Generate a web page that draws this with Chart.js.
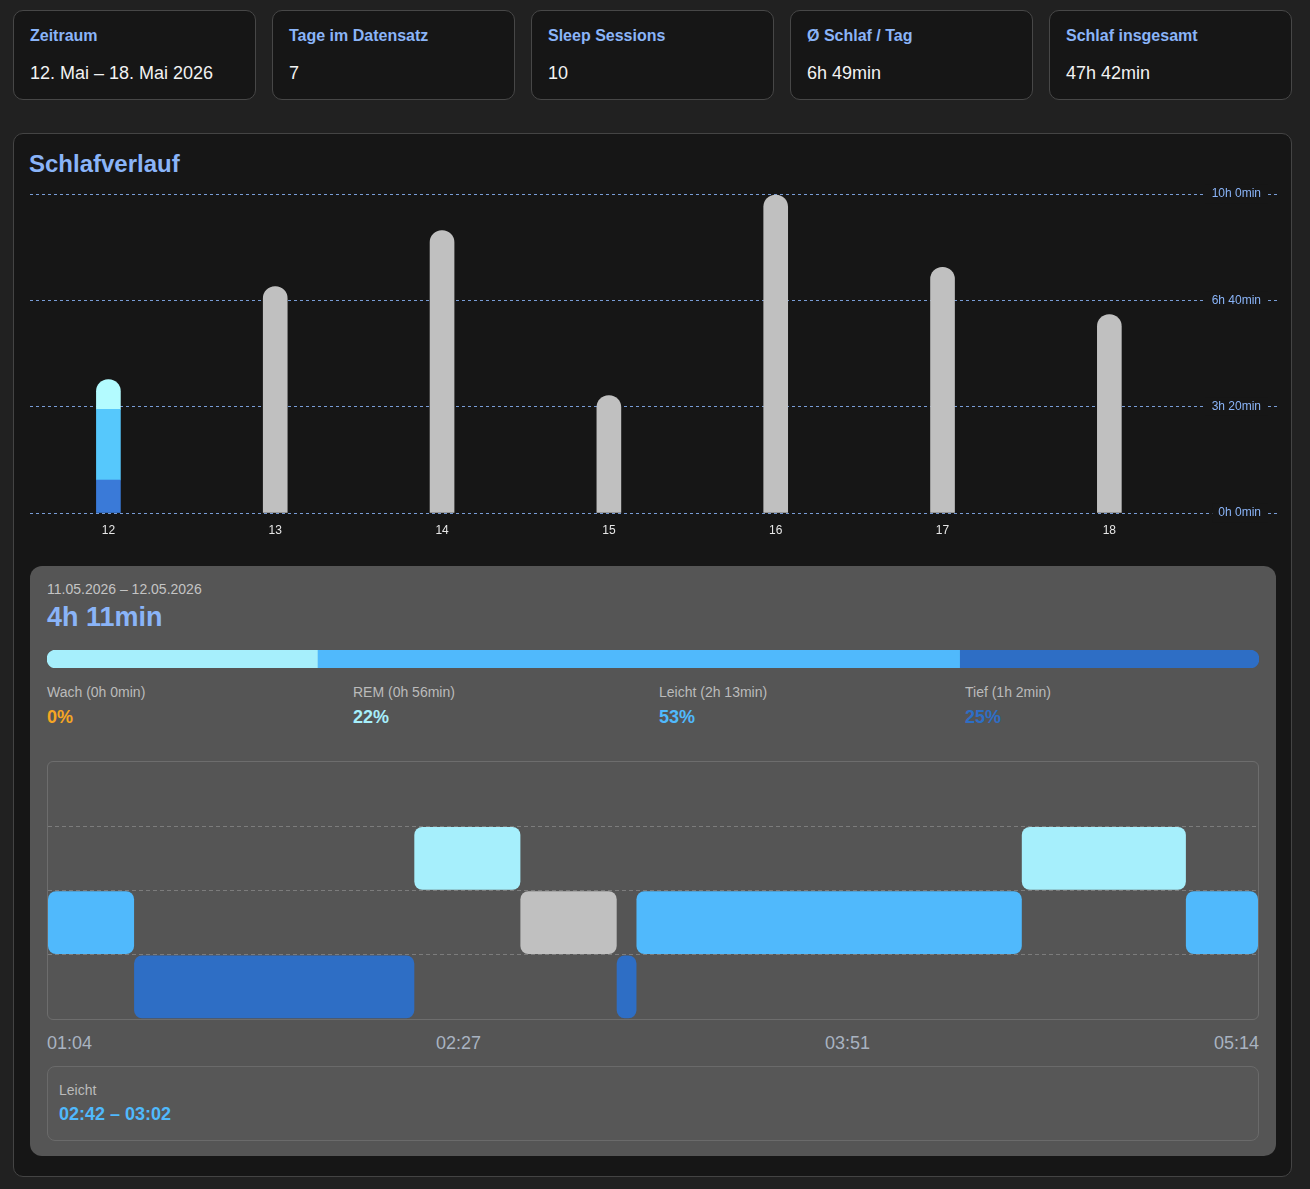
<!DOCTYPE html>
<html lang="de">
<head>
<meta charset="utf-8">
<title>Schlafverlauf</title>
<script src="https://cdn.jsdelivr.net/npm/chart.js@4.4.1/dist/chart.umd.min.js"></script>
<style>
html,body{margin:0;padding:0;background:#212121;}
body{width:1310px;height:1189px;position:relative;overflow:hidden;font-family:"Liberation Sans",Arial,sans-serif;}
.t{position:absolute;line-height:1;white-space:nowrap;margin:0;}
.card{position:absolute;top:10px;width:243px;height:90px;box-sizing:border-box;background:#161616;border:1px solid #474747;border-radius:10px;}
.card .ct{left:16px;top:16.5px;font-size:16px;font-weight:bold;color:#8ab4f8;}
.card .cv{left:16px;top:53px;font-size:18px;color:#f2f2f2;}
#panel{position:absolute;left:13px;top:133px;width:1279px;height:1044px;box-sizing:border-box;background:#161616;border:1px solid #444;border-radius:10px;}
#detail{position:absolute;left:30px;top:566px;width:1246px;height:590px;background:#555555;border-radius:12px;}
#hypBox{position:absolute;left:47px;top:761px;width:1212px;height:259px;box-sizing:border-box;border:1px solid #6d6d6d;border-radius:6px;overflow:hidden;}
#timeline{position:absolute;left:47px;top:1033.8px;width:1212px;display:flex;justify-content:space-between;font-size:18px;line-height:1;color:#a9b3c1;}
#selBox{position:absolute;left:47px;top:1066px;width:1212px;height:75px;box-sizing:border-box;border:1px solid #6a6a6a;border-radius:8px;background:#575757;}
</style>
</head>
<body>
<div id="cards"></div>
<div id="panel"></div>
<div class="t" style="left:29px;top:151.7px;font-size:24px;font-weight:bold;color:#8ab4f8;">Schlafverlauf</div>
<div style="position:absolute;left:30px;top:180px;width:1247px;height:370px;"><canvas id="barChart"></canvas></div>
<div id="detail"></div>
<div class="t" id="detailDate" style="left:47px;top:582.4px;font-size:14px;color:#c4c4c4;"></div>
<div class="t" id="detailTotal" style="left:47px;top:603.8px;font-size:27px;font-weight:bold;color:#8ab4f8;"></div>
<div style="position:absolute;left:47px;top:650px;width:1212px;height:18px;"><canvas id="progChart"></canvas></div>
<div id="legendRow"></div>
<div id="hypBox"><div style="position:absolute;left:0;top:0;width:1210px;height:257px;"><canvas id="hypChart"></canvas></div></div>
<div id="timeline"></div>
<div id="selBox"></div>
<div class="t" id="selStage" style="left:59px;top:1083.4px;font-size:14px;color:#bbbbbb;"></div>
<div class="t" id="selRange" style="left:59px;top:1105.1px;font-size:18px;font-weight:bold;color:#50b9fc;"></div>
<script>
// ---------- data ----------
const days = ['12', '13', '14', '15', '16', '17', '18'];
const totalMinutes = [251, 426, 531, 221, 598, 462, 373];
const selectedDayIndex = 0;
const yTickValues = [0, 200, 400, 600];

const stageNames = ['Wach', 'REM', 'Leicht', 'Tief'];
const stageMinutes = [0, 56, 133, 62];

const segStages = ['Leicht', 'Tief', 'REM', 'Leicht', 'Tief', 'Leicht', 'REM', 'Leicht'];
const segStart  = ['01:04:00', '01:21:47', '02:19:41', '02:41:36', '03:01:30', '03:05:35', '04:25:12', '04:59:06'];
const segEnd    = ['01:21:47', '02:19:41', '02:41:36', '03:01:30', '03:05:35', '04:25:12', '04:59:06', '05:14:00'];
const selectedSegment = 3;
const timelineLabels = ['01:04', '02:27', '03:51', '05:14'];

const periodText = '12. Mai – 18. Mai 2026';
const sessionCount = 10;
const detailDateText = '11.05.2026 – 12.05.2026';

// ---------- styles ----------
const FONT = '"Liberation Sans", Arial, sans-serif';
Chart.defaults.font.family = FONT;
const barColors = {Wach: '#f5a623', REM: '#b3fbff', Leicht: '#56c8fc', Tief: '#3a7ad8'};
const detailColors = {Wach: '#f5a623', REM: '#a6effc', Leicht: '#50b9fc', Tief: '#2e6ec5'};
const selectedColor = '#c0c0c0';

function fmt(m) { return Math.floor(m / 60) + 'h ' + (m % 60) + 'min'; }
function toMin(s) { const p = s.split(':').map(Number); return p[0] * 60 + p[1] + (p[2] || 0) / 60; }
function hhmm(s) {
  const m = Math.round(toMin(s));
  return String(Math.floor(m / 60)).padStart(2, '0') + ':' + String(m % 60).padStart(2, '0');
}

// ---------- cards ----------
const sumAll = totalMinutes.reduce((a, b) => a + b, 0);
const cardTitles = ['Zeitraum', 'Tage im Datensatz', 'Sleep Sessions', 'Ø Schlaf / Tag', 'Schlaf insgesamt'];
const cardValues = [periodText, String(days.length), String(sessionCount), fmt(Math.round(sumAll / days.length)), fmt(sumAll)];
const cardsEl = document.getElementById('cards');
cardTitles.forEach((t, i) => {
  const c = document.createElement('div');
  c.className = 'card';
  c.style.left = (13 + i * 259) + 'px';
  c.innerHTML = '<div class="t ct"></div><div class="t cv"></div>';
  c.querySelector('.ct').textContent = t;
  c.querySelector('.cv').textContent = cardValues[i];
  cardsEl.appendChild(c);
});

// ---------- bar chart ----------
const barStack = ['Tief', 'Leicht', 'REM', 'Wach'];
const barDatasets = barStack.map(name => {
  const k = stageNames.indexOf(name);
  return {
    label: name,
    data: days.map((d, i) => ({x: Number(d), y: (i === selectedDayIndex && stageMinutes[k] > 0) ? stageMinutes[k] : null})),
    backgroundColor: barColors[name]
  };
});
barDatasets.push({
  label: 'Schlaf',
  data: days.map((d, i) => ({x: Number(d), y: i === selectedDayIndex ? null : totalMinutes[i]})),
  backgroundColor: '#c0c0c0'
});
const gridBlue = 'rgba(138,180,248,0.85)';
new Chart(document.getElementById('barChart'), {
  type: 'bar',
  data: {datasets: barDatasets},
  options: {
    animation: false, responsive: true, maintainAspectRatio: false, events: [],
    layout: {padding: {top: 14, left: 0, right: 0, bottom: 0}},
    plugins: {legend: {display: false}, tooltip: {enabled: false}},
    datasets: {bar: {barThickness: 24, borderRadius: 12, borderSkipped: 'start'}},
    scales: {
      x: {
        type: 'linear', stacked: true, offset: false, min: 11.53, max: 18.951,
        afterBuildTicks: s => { s.ticks = days.map(d => ({value: Number(d)})); },
        grid: {display: false, drawTicks: false}, border: {display: false},
        ticks: {autoSkip: false, padding: 10, color: '#e6e6e6', font: {size: 12}, callback: v => String(v)},
        afterFit: s => { s.height = 37; s.paddingLeft = 0; s.paddingRight = 0; }
      },
      y: {
        type: 'linear', position: 'right', stacked: true, min: 0, max: 600,
        afterBuildTicks: s => { s.ticks = yTickValues.map(v => ({value: v})); },
        grid: {color: gridBlue, tickColor: gridBlue, tickLength: 9, tickBorderDash: [3, 3], drawTicks: true},
        border: {display: false, dash: [3, 3]},
        ticks: {
          mirror: true, padding: -7, color: '#8ab4f8', font: {size: 12},
          showLabelBackdrop: true, backdropColor: '#161616',
          backdropPadding: {left: 6, right: 7, top: 2, bottom: 2},
          callback: v => fmt(v)
        },
        afterFit: s => { s.width = 9; s.paddingTop = 0; s.paddingBottom = 0; }
      }
    }
  }
});

// ---------- detail header ----------
const stageTotal = stageMinutes.reduce((a, b) => a + b, 0);
document.getElementById('detailDate').textContent = detailDateText;
document.getElementById('detailTotal').textContent = fmt(stageTotal);

// ---------- progress bar ----------
const positive = stageNames.map((n, k) => stageMinutes[k] > 0);
const firstPos = positive.indexOf(true);
const lastPos = positive.lastIndexOf(true);
let acc = 0;
const progDatasets = stageNames.map((name, k) => {
  const s = acc; acc += stageMinutes[k];
  let r = 0;
  if (k === firstPos && k === lastPos) r = 9;
  else if (k === firstPos) r = {topLeft: 9, bottomLeft: 9, topRight: 0, bottomRight: 0};
  else if (k === lastPos) r = {topLeft: 0, bottomLeft: 0, topRight: 9, bottomRight: 9};
  return {
    label: name,
    data: [stageMinutes[k] > 0 ? [s, acc] : null],
    backgroundColor: detailColors[name],
    borderRadius: r, borderSkipped: false, grouped: false,
    barPercentage: 1, categoryPercentage: 1
  };
});
new Chart(document.getElementById('progChart'), {
  type: 'bar',
  data: {labels: [''], datasets: progDatasets},
  options: {
    indexAxis: 'y', animation: false, responsive: true, maintainAspectRatio: false, events: [],
    layout: {padding: 0},
    plugins: {legend: {display: false}, tooltip: {enabled: false}},
    scales: {
      x: {type: 'linear', min: 0, max: stageTotal, display: false},
      y: {display: false}
    }
  }
});

// ---------- legend row ----------
const legendRow = document.getElementById('legendRow');
stageNames.forEach((name, k) => {
  const x = 47 + k * 306;
  const l = document.createElement('div');
  l.className = 't';
  l.style.cssText = 'left:' + x + 'px;top:685.4px;font-size:14px;color:#bbbbbb;';
  l.textContent = name + ' (' + fmt(stageMinutes[k]) + ')';
  const p = document.createElement('div');
  p.className = 't';
  p.style.cssText = 'left:' + x + 'px;top:707.5px;font-size:18px;font-weight:bold;color:' + detailColors[name] + ';';
  p.textContent = Math.round(stageMinutes[k] / stageTotal * 100) + '%';
  legendRow.appendChild(l); legendRow.appendChild(p);
});

// ---------- hypnogram ----------
const t0 = toMin(timelineLabels[0]);
const t1 = toMin(timelineLabels[timelineLabels.length - 1]);
new Chart(document.getElementById('hypChart'), {
  type: 'bar',
  data: {
    labels: stageNames,
    datasets: [{
      label: 'Phasen',
      data: segStages.map((s, i) => ({y: s, x: [toMin(segStart[i]) - t0, toMin(segEnd[i]) - t0]})),
      backgroundColor: segStages.map((s, i) => i === selectedSegment ? selectedColor : detailColors[s]),
      borderRadius: 8, borderSkipped: false,
      barPercentage: 0.98, categoryPercentage: 1
    }]
  },
  options: {
    indexAxis: 'y', animation: false, responsive: true, maintainAspectRatio: false, events: [],
    layout: {padding: 0},
    plugins: {legend: {display: false}, tooltip: {enabled: false}},
    scales: {
      x: {type: 'linear', min: 0, max: t1 - t0, display: false},
      y: {
        type: 'category', offset: true,
        grid: {offset: true, drawTicks: false,
          color: ctx => (ctx.type !== 'tick' || ctx.index === 0) ? 'rgba(0,0,0,0)' : '#7c7c7c'},
        border: {display: false, dash: [4, 3]},
        ticks: {display: false},
        afterFit: s => { s.width = 0; s.paddingTop = 0; s.paddingBottom = 0; }
      }
    }
  }
});

// ---------- timeline labels ----------
const tl = document.getElementById('timeline');
timelineLabels.forEach(t => { const s = document.createElement('span'); s.textContent = t; tl.appendChild(s); });

// ---------- selected segment ----------
document.getElementById('selStage').textContent = segStages[selectedSegment];
document.getElementById('selRange').textContent = hhmm(segStart[selectedSegment]) + ' – ' + hhmm(segEnd[selectedSegment]);
</script>
</body>
</html>
